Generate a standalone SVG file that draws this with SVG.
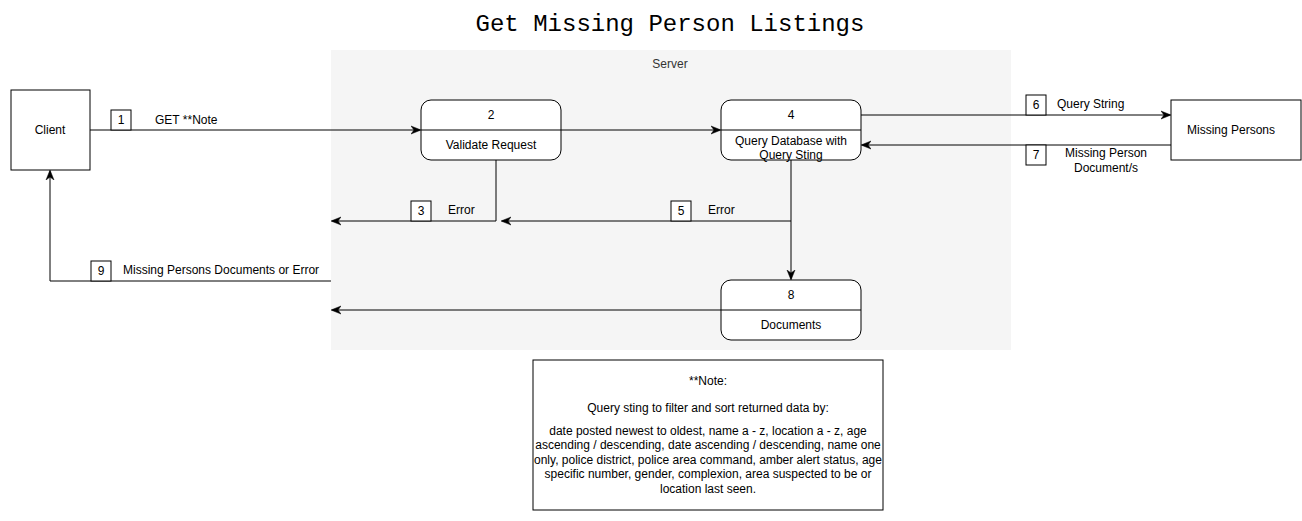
<svg xmlns="http://www.w3.org/2000/svg" width="1302" height="521" viewBox="0 0 1302 521">
<defs>
<style>
text{font-family:"Liberation Sans",Arial,Helvetica,sans-serif;font-size:12px;fill:#000;text-anchor:middle}
.t{font-family:"Liberation Mono","Courier New",monospace;font-size:24px}
.s{fill:#333}
.box{fill:#fff;stroke:#000;stroke-width:1}
.edge{fill:none;stroke:#000;stroke-width:1}
.lbl{fill:#fff;stroke:#000;stroke-width:1}
.l{text-anchor:start}
</style>
<marker id="arr" viewBox="0 0 10 10" refX="9" refY="5" markerWidth="10" markerHeight="10" markerUnits="userSpaceOnUse" orient="auto">
<path d="M0,1 L10,5 L0,9 L3,5 Z" fill="#000" stroke="#000" stroke-width="0.5"/>
</marker>
</defs>
<rect width="1302" height="521" fill="#fff"/>
<text class="t" x="670" y="31">Get Missing Person Listings</text>
<g id="server">
<rect x="331" y="50" width="680" height="300" fill="#f5f5f5"/>
<text class="s" x="670" y="68">Server</text>
</g>
<g id="client">
<rect class="box" x="11" y="90" width="79" height="80"/>
<text x="50" y="134">Client</text>
</g>
<g id="missing-persons">
<rect class="box" x="1171" y="100" width="130" height="60"/>
<text x="1231" y="134">Missing Persons</text>
</g>
<g id="node2">
<rect class="box" x="421" y="100" width="140" height="60" rx="10"/>
<line class="edge" x1="421" y1="130" x2="561" y2="130"/>
<text x="491" y="119">2</text>
<text x="491" y="149">Validate Request</text>
</g>
<g id="node4">
<rect class="box" x="721" y="100" width="140" height="60" rx="10"/>
<line class="edge" x1="721" y1="130" x2="861" y2="130"/>
<text x="791" y="119">4</text>
<text x="791" y="145">Query Database with</text>
<text x="791" y="159">Query Sting</text>
</g>
<g id="node8">
<rect class="box" x="721" y="280" width="140" height="60" rx="10"/>
<line class="edge" x1="721" y1="310" x2="861" y2="310"/>
<text x="791" y="299">8</text>
<text x="791" y="329">Documents</text>
</g>
<g id="note">
<rect class="box" x="533" y="360" width="350" height="150"/>
<text x="708" y="385">**Note:</text>
<text x="708" y="412">Query sting to filter and sort returned data by:</text>
<text x="708" y="435">date posted newest to oldest, name a - z, location a - z, age</text>
<text x="708" y="449">ascending / descending, date ascending / descending, name one</text>
<text x="708" y="464">only, police district, police area command, amber alert status, age</text>
<text x="708" y="478">specific number, gender, complexion, area suspected to be or</text>
<text x="708" y="493">location last seen.</text>
</g>
<g id="connectors">
<path class="edge" d="M90,130 L420,130" marker-end="url(#arr)"/>
<path class="edge" d="M561,130 L720,130" marker-end="url(#arr)"/>
<path class="edge" d="M496,160 L496,221 L332,221" marker-end="url(#arr)"/>
<path class="edge" d="M791,221 L502,221" marker-end="url(#arr)"/>
<path class="edge" d="M791,160 L791,279" marker-end="url(#arr)"/>
<path class="edge" d="M861,115 L1170,115" marker-end="url(#arr)"/>
<path class="edge" d="M1171,145 L862,145" marker-end="url(#arr)"/>
<path class="edge" d="M721,310 L332,310" marker-end="url(#arr)"/>
<path class="edge" d="M331,281 L50,281 L50,171" marker-end="url(#arr)"/>
<rect class="lbl" x="111" y="110" width="20" height="20"/>
<text x="121" y="124">1</text>
<text class="l" x="155" y="124">GET **Note</text>
<rect class="lbl" x="411" y="201" width="20" height="20"/>
<text x="421" y="215">3</text>
<text class="l" x="448" y="214">Error</text>
<rect class="lbl" x="671" y="201" width="20" height="20"/>
<text x="681" y="215">5</text>
<text class="l" x="708" y="214">Error</text>
<rect class="lbl" x="1026" y="95" width="20" height="20"/>
<text x="1036" y="109">6</text>
<text class="l" x="1057" y="108">Query String</text>
<rect class="lbl" x="1026" y="145" width="20" height="20"/>
<text x="1036" y="159">7</text>
<text x="1106" y="157">Missing Person</text>
<text x="1106" y="172">Document/s</text>
<rect class="lbl" x="91" y="261" width="20" height="20"/>
<text x="101" y="275">9</text>
<text class="l" x="123" y="274">Missing Persons Documents or Error</text>
</g>
</svg>
